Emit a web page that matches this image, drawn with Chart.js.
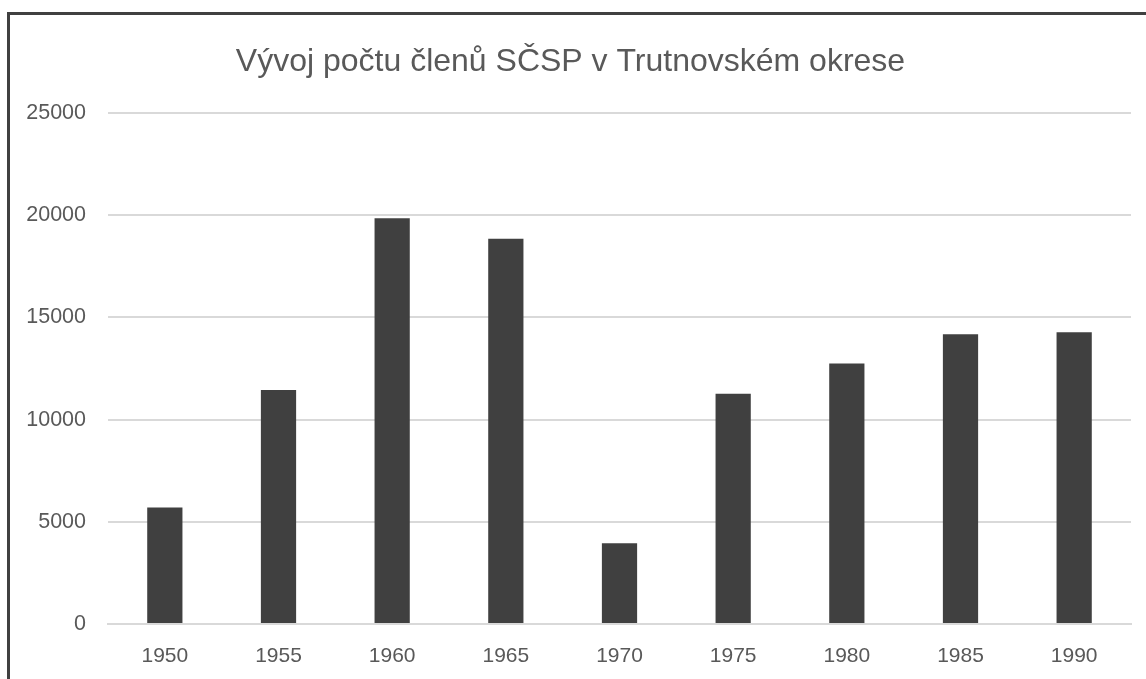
<!DOCTYPE html>
<html>
<head>
<meta charset="utf-8">
<script src="https://cdn.jsdelivr.net/npm/chart.js@4/dist/chart.umd.min.js"></script>
<style>
  html, body { margin: 0; padding: 0; background: #fff; }
  #frame {
    position: absolute; left: 7px; top: 12px;
    width: 1136px; height: 664px;
    border-left: 3px solid #404040; border-top: 3px solid #404040;
  }
  #chart { display: block; }
</style>
</head>
<body>
<div id="frame"><canvas id="chart" width="1136" height="664"></canvas></div>
<script>
// Data
const years   = ["1950", "1955", "1960", "1965", "1970", "1975", "1980", "1985", "1990"];
const members = [5700, 11450, 19850, 18850, 3950, 11270, 12750, 14170, 14270];
const yTicks  = [0, 5000, 10000, 15000, 20000, 25000];

const titleText = "Vývoj počtu členů SČSP v Trutnovském okrese";
const font = "'Liberation Sans', Arial, sans-serif";
const grey = "#595959";

new Chart(document.getElementById("chart"), {
  type: "bar",
  data: {
    labels: years,
    datasets: [{
      data: members,
      backgroundColor: "#404040",
      borderWidth: 0,
      barPercentage: 0.31,
      categoryPercentage: 1
    }]
  },
  options: {
    responsive: false,
    animation: false,
    layout: { padding: { left: 0, right: 15, top: 0, bottom: 0 } },
    plugins: {
      legend: { display: false },
      tooltip: { enabled: false },
      title: {
        display: true,
        text: titleText,
        color: grey,
        font: { family: font, size: 32, weight: "normal", lineHeight: 1.2 },
        padding: { top: 28, bottom: 31.6 }
      }
    },
    scales: {
      x: {
        grid: { display: false, drawTicks: false },
        border: { color: "#d9d9d9", width: 2 },
        ticks: { color: grey, font: { family: font, size: 21 }, padding: 20, maxRotation: 0 },
        afterFit: s => { s.height = 55; }
      },
      y: {
        min: 0, max: 25000,
        afterBuildTicks: s => { s.ticks = yTicks.map(v => ({ value: v })); },
        grid: { color: "#d9d9d9", lineWidth: 2, drawTicks: false },
        border: { display: false },
        ticks: {
          color: grey, font: { family: font, size: 21.5 }, padding: 22,
          callback: v => String(v)
        },
        afterFit: s => { s.width = 98; }
      }
    }
  }
});
</script>
</body>
</html>
